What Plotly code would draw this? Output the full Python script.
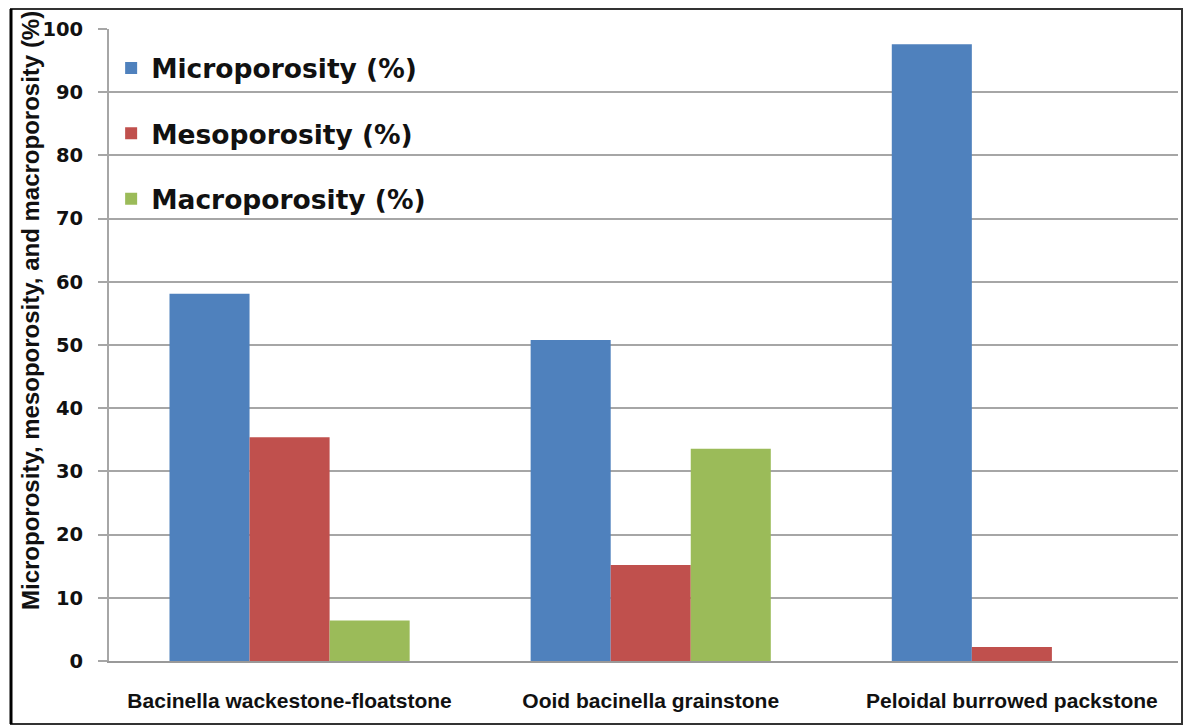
import plotly.graph_objects as go

categories = ["Bacinella wackestone-floatstone", "Ooid bacinella grainstone", "Peloidal burrowed packstone"]
micro = [58.1, 50.8, 97.6]
meso = [35.4, 15.2, 2.2]
macro = [6.4, 33.6, 0]
series_names = ["Microporosity (%)", "Mesoporosity (%)", "Macroporosity (%)"]
colors = ["#4F81BD", "#C0504D", "#9BBB59"]
y_ticks = [0, 10, 20, 30, 40, 50, 60, 70, 80, 90, 100]

W, H = 1184, 726
L, R, T, B = 109, 1178, 29, 661

fig = go.Figure()
for i, (name, vals) in enumerate(zip(series_names, [micro, meso, macro])):
    fig.add_trace(go.Bar(
        x=list(range(len(categories))), y=vals, name=name,
        marker=dict(color=colors[i], line=dict(width=0)),
        legendgroup=f"g{i}",
    ))

def px(x):
    return (x - L) / (R - L)

def py(y):
    return (B - y) / (B - T)

fig.update_layout(
    width=W, height=H,
    margin=dict(l=L, r=W - R, t=T, b=H - B),
    paper_bgcolor="white", plot_bgcolor="white",
    barmode="group", bargap=0.335, bargroupgap=0,
    font=dict(family="DejaVu Sans", color="#111"),
    legend=dict(
        x=0.002, y=0.976, xanchor="left", yanchor="top",
        font=dict(size=26.5, family="DejaVu Sans", color="#111", weight="bold"),
        tracegroupgap=28, bgcolor="rgba(0,0,0,0)", itemwidth=30,
    ),
    xaxis=dict(
        range=[-0.5, 2.46], tickmode="array",
        tickvals=list(range(len(categories))), ticktext=categories,
        showgrid=False, showline=True, linecolor="#999", linewidth=2,
        ticks="", ticklabelstandoff=20,
        tickfont=dict(size=21, family="Liberation Sans", color="#111", weight="bold"),
        zeroline=False,
    ),
    yaxis=dict(
        range=[0, 100], tickmode="array", tickvals=y_ticks,
        showgrid=True, gridcolor="#a6a6a6", gridwidth=2,
        showline=True, linecolor="#a6a6a6", linewidth=2,
        ticks="outside", ticklen=9, tickcolor="#a6a6a6", tickwidth=2,
        ticklabelstandoff=11,
        tickfont=dict(size=19.5, family="DejaVu Sans", color="#111", weight="bold"),
        zeroline=False,
    ),
    annotations=[dict(
        text="Microporosity, mesoporosity, and macroporosity (%)",
        xref="paper", yref="paper", x=px(30), y=py(311),
        xanchor="center", yanchor="middle", textangle=-90, showarrow=False,
        font=dict(size=24, family="Liberation Sans", color="#111", weight="bold"),
    )],
    shapes=[
        dict(type="rect", xref="paper", yref="paper",
             x0=px(11), x1=px(1182), y0=py(724), y1=py(9),
             line=dict(color="#333", width=2), layer="above"),
        dict(type="line", xref="paper", yref="paper",
             x0=px(11), x1=px(11), y0=py(724), y1=py(9),
             line=dict(color="#000", width=3), layer="above"),
    ],
)

fig.write_html("out.html")
